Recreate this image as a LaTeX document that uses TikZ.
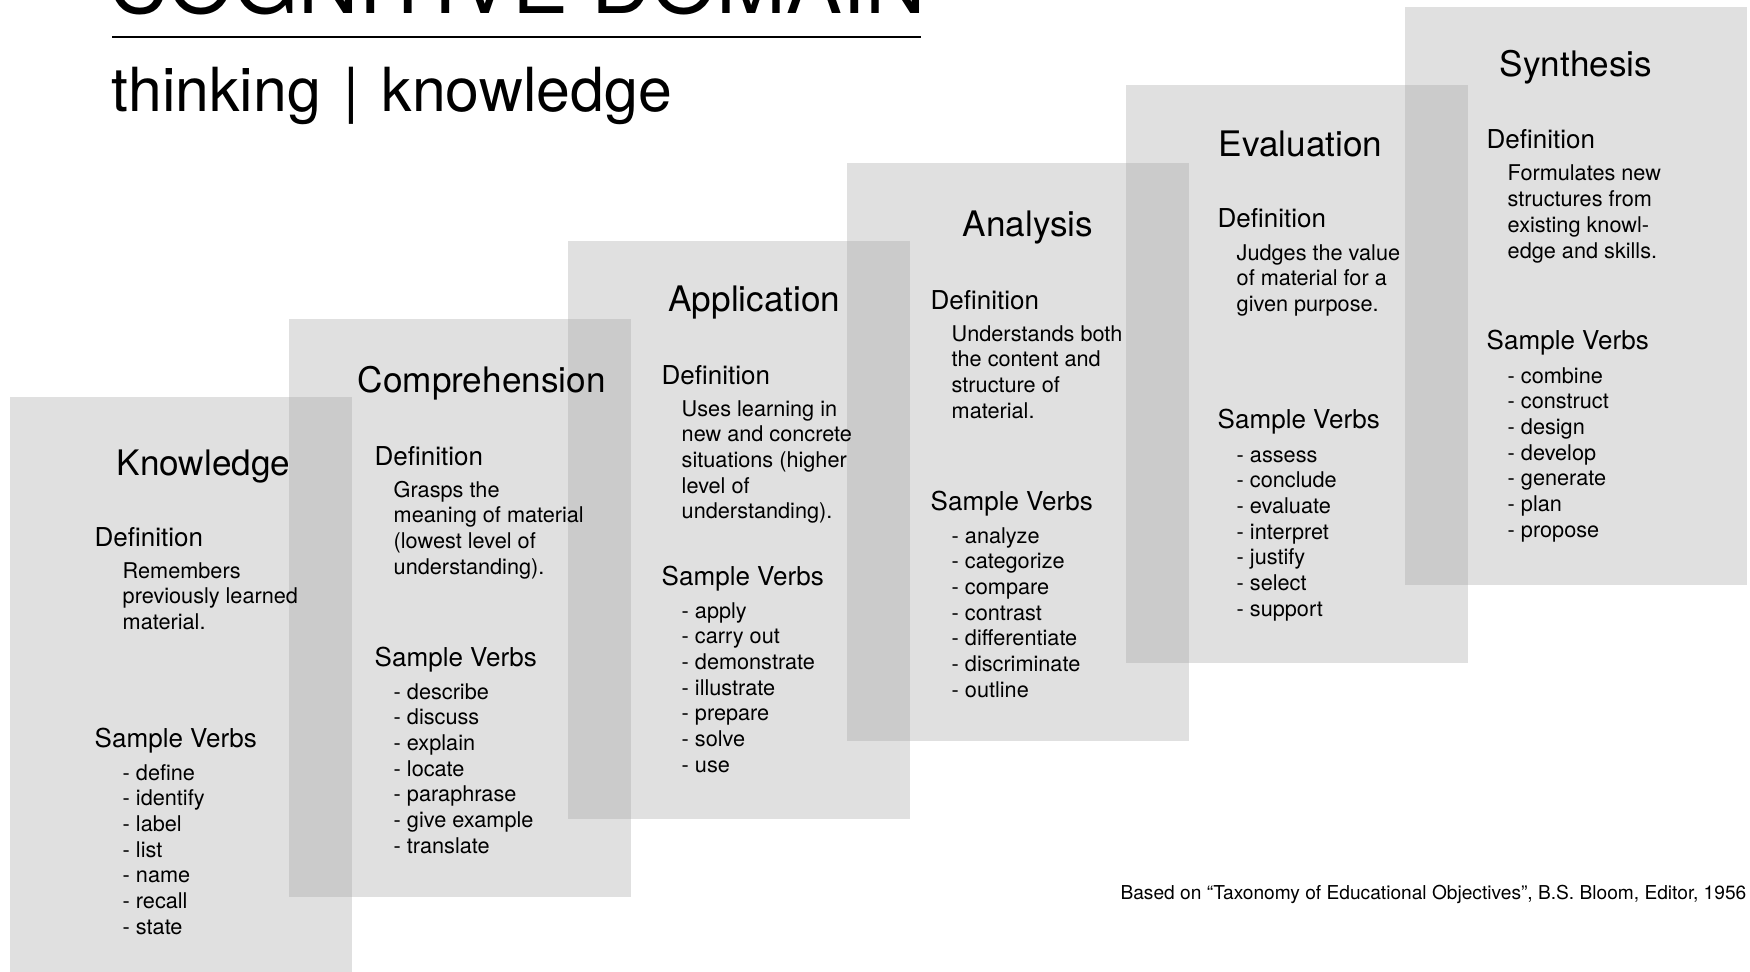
\documentclass[tikz,border=0pt]{standalone}
\usepackage{fontspec}
\setmainfont{TeX Gyre Heros}
\usetikzlibrary{calc}
\definecolor{panelgray}{RGB}{159,159,159}

\tikzset{
	panel/.style={fill=panelgray, fill opacity=0.32},
	bigtitle/.style={inner sep=0, anchor=base west, font=\fontsize{23.8pt}{28pt}\selectfont},
	subtitle/.style={inner sep=0, anchor=base west, font=\fontsize{17.3pt}{21pt}\selectfont},
	leveltitle/.style={inner sep=0, anchor=base, font=\fontsize{10pt}{12pt}\selectfont},
	heading/.style={inner sep=0, anchor=base west, font=\fontsize{7.4pt}{9pt}\selectfont},
	bodyline/.style={inner sep=0, anchor=base west, font=\fontsize{6.17pt}{7.3pt}\selectfont},
	credit/.style={inner sep=0, anchor=base east, font=\fontsize{5.45pt}{6.5pt}\selectfont},
}

\begin{document}
\begin{tikzpicture}[x=0.1mm, y=-0.1mm]
	% Parameters of the staircase (slide pixels, y pointing down)
	\def\pw{342}       % width of one panel
	\def\ph{578}       % height of one panel
	\def\stepx{279}    % shift to the right from one level to the next
	\def\stepy{78}     % shift upwards from one level to the next
	\def\lead{25.7}    % distance between two lines of text
	
	\useasboundingbox (0,0) rectangle (1750,972);
	\clip (0,0) rectangle (1750,972);
	
	% Header
	\node[bigtitle] (cogtitle) at (108,14) {COGNITIVE DOMAIN};
	\draw[line width=0.7pt] (112,37) coordinate (rulestart) -- (921,37) coordinate (ruleend);
	\node[subtitle] (subtitle) at (111,112) {thinking\hspace{1.6pt} | \hspace{1.6pt}knowledge};
	
	% Panels of the six levels
	\foreach \i in {0,...,5}{
		\fill[panel] ({10+\i*\stepx},{397-\i*\stepy}) rectangle ++(\pw,\ph);
	}
	
	% Text of every level
	\foreach \i/\lvl/\tx/\ty/\hx/\hy/\bx/\defs/\verbs in {
		0/Knowledge/203.5/475/94/546/122/{Remembers,previously learned,material.}/{define,identify,label,list,name,recall,state},
		1/Comprehension/481.6/393/374/465/393/{Grasps the,meaning of material,{(lowest level of},understanding).}/{describe,discuss,explain,locate,paraphrase,give example,translate},
		2/Application/754.5/312/661/384/681/{Uses learning in,new and concrete,situations (higher,level of,understanding).}/{apply,carry out,demonstrate,illustrate,prepare,solve,use},
		3/Analysis/1028/237/930/309/951/{Understands both,the content and,structure of,material.}/{analyze,categorize,compare,contrast,differentiate,discriminate,outline},
		4/Evaluation/1300.5/157/1217/228/1236/{Judges the value,of material for a,given purpose.}/{assess,conclude,evaluate,interpret,justify,select,support},
		5/Synthesis/1576/77/1486/149/1507/{Formulates new,structures from,existing knowl-,edge and skills.}/{combine,construct,design,develop,generate,plan,propose}}{
		\node[leveltitle] (title\i) at (\tx,\ty) {\lvl};
		\node[heading] (def\i) at (\hx,\hy) {Definition};
		\foreach \dl [count=\k] in \defs
			\node[bodyline] (def\i-\k) at (\bx,{\hy+32+(\k-1)*\lead}) {\dl};
		\node[heading] (verbs\i) at (\hx,{\hy+201}) {Sample Verbs};
		\foreach \vb [count=\k] in \verbs
			\node[bodyline] (verb\i-\k) at (\bx,{\hy+234+(\k-1)*\lead}) {- \vb};
	}
	
	% Source
	\node[credit] (source) at (1747,899) {Based on “Taxonomy of Educational Objectives”, B.S. Bloom, Editor, 1956};
\end{tikzpicture}
\end{document}
